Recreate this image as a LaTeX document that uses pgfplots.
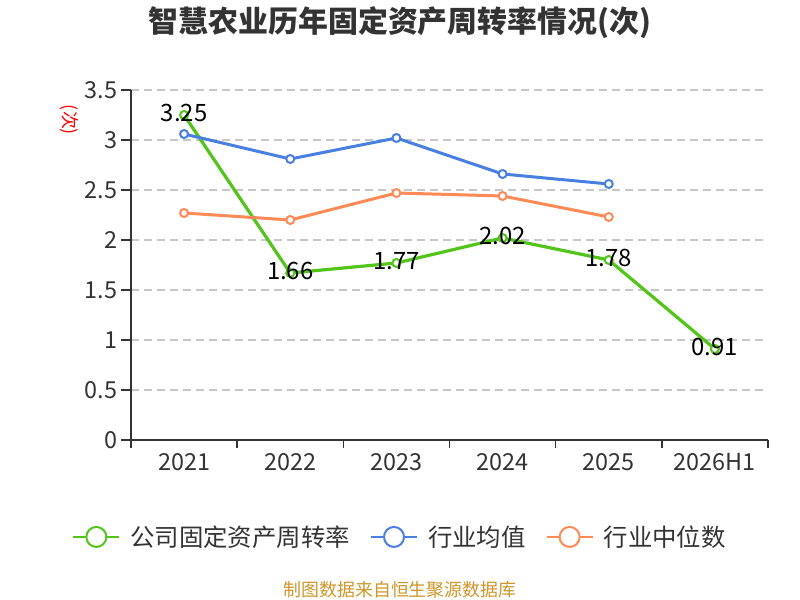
\documentclass[border=0pt]{standalone}
\usepackage{fontspec}
\setmainfont{Noto Sans CJK SC}
\usepackage{pgfplots}
\pgfplotsset{compat=1.18}
\definecolor{cgreen}{RGB}{82,196,26}
\definecolor{cblue}{RGB}{74,127,226}
\definecolor{corange}{RGB}{255,138,85}
\definecolor{caxis}{RGB}{51,51,51}
\definecolor{csrc}{RGB}{204,150,40}
\begin{document}
\begin{tikzpicture}[x=1bp,y=1bp]
\path[use as bounding box] (0,0) rectangle (800,600);
\node[font=\fontsize{30}{30}\selectfont\bfseries, text=caxis] at (400,577) {智慧农业历年固定资产周转率情况(次)};
\node[font=\fontsize{18}{18}\selectfont, text=red, rotate=-90] at (69,480) {(次)};
\node[font=\fontsize{18}{18}\selectfont, text=csrc] at (400,10) {制图数据来自恒生聚源数据库};
\begin{axis}[
  at={(131bp,160bp)}, anchor=south west,
  scale only axis, width=637bp, height=350bp,
  xmin=-0.5, xmax=5.5, ymin=0, ymax=3.5,
  axis lines=left, axis line style={-, draw=caxis, line width=1.4bp},
  xtick={0,1,2,3,4,5},
  xticklabels={2021,2022,2023,2024,2025,2026H1},
  minor xtick={-0.5,0.5,1.5,2.5,3.5,4.5,5.5},
  ytick={0,0.5,1,1.5,2,2.5,3,3.5},
  yticklabels={0,0.5,1,1.5,2,2.5,3,3.5},
  x tick style={draw=none},
  minor x tick style={draw=caxis, line width=1.4bp},
  y tick style={draw=caxis, line width=1.4bp},
  tick align=outside, major tick length=10bp, minor tick length=8bp,
  ymajorgrids,
  grid style={dash pattern=on 8bp off 5bp, color=black!22, line width=1.3bp},
  tick label style={font=\fontsize{23.5}{23.5}\selectfont, text=caxis},
  /pgf/number format/assume math mode=true,
  clip=false,
  legend style={at={(0.4223,-0.277)}, anchor=center, draw=none, fill=none,
    legend columns=3, font=\fontsize{24.5}{24.5}\selectfont, text=caxis,
    /tikz/every odd column/.append style={column sep=8bp},
    /tikz/every even column/.append style={column sep=18bp}},
  legend image code/.code={
    \draw[#1, mark=none, line width=2bp] (0bp,0bp) -- (46bp,0bp);
    \draw[#1, mark=none, line width=2bp, fill=white] (23bp,0bp) circle (10bp);
  },
]
\addplot[color=cgreen, line width=3.2bp, mark=*, mark size=4bp,
  mark options={fill=white, line width=2bp},
  point meta=explicit symbolic,
  nodes near coords, nodes near coords align={center},
  every node near coord/.append style={font=\fontsize{24}{24}\selectfont, text=black, anchor=center, yshift=2bp}]
  table[meta=lab] {
x y lab
0 3.25 3.25
1 1.67 1.66
2 1.77 1.77
3 2.02 2.02
4 1.80 1.78
5 0.91 0.91
};
\addlegendentry{公司固定资产周转率}
\addplot[color=cblue, line width=3bp, mark=*, mark size=4bp,
  mark options={fill=white, line width=2bp}]
  coordinates {(0,3.06) (1,2.81) (2,3.02) (3,2.66) (4,2.56)};
\addlegendentry{行业均值}
\addplot[color=corange, line width=3bp, mark=*, mark size=4bp,
  mark options={fill=white, line width=2bp}]
  coordinates {(0,2.27) (1,2.20) (2,2.47) (3,2.44) (4,2.23)};
\addlegendentry{行业中位数}
\end{axis}
\end{tikzpicture}
\end{document}
